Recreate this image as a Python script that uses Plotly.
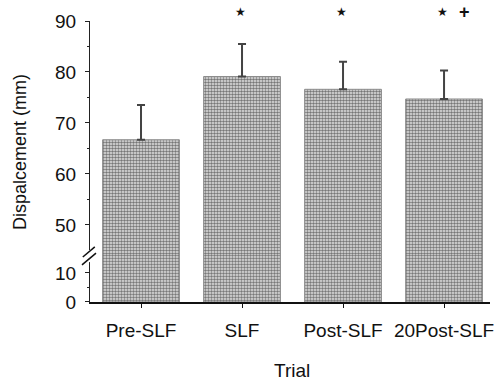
import plotly.graph_objects as go

categories = ["Pre-SLF", "SLF", "Post-SLF", "20Post-SLF"]
means = [66.7, 79.1, 76.6, 74.7]
sd = [6.8, 6.4, 5.4, 5.6]
star_trials = [1, 2, 3]
plus_trials = [3]

x_idx = list(range(len(categories)))

FONT = "Liberation Sans, Arial, Helvetica, sans-serif"
pattern = dict(shape=".", size=3, solidity=0.55, fgcolor="#777777", bgcolor="#e6e6e6", fillmode="replace")
bar_line = dict(color="#8a8a8a", width=1)

fig = go.Figure()
fig.add_trace(go.Bar(x=x_idx, y=means, width=0.76, yaxis="y",
                     marker=dict(color="#e6e6e6", pattern=pattern, line=bar_line),
                     showlegend=False, hoverinfo="skip"))
fig.add_trace(go.Bar(x=x_idx, y=means, width=0.76, yaxis="y2",
                     marker=dict(color="#e6e6e6", pattern=pattern, line=bar_line),
                     error_y=dict(type="data", symmetric=False, array=sd,
                                  arrayminus=[0] * len(sd), color="#444",
                                  thickness=2, width=4),
                     showlegend=False))

sig_y = 1.033  # paper units, just above the plot top
annotations = [
    dict(text="Dispalcement (mm)", xref="paper", yref="paper", x=-0.175, y=0.534,
         textangle=-90, showarrow=False, xanchor="center", yanchor="middle",
         font=dict(family=FONT, size=18, color="#111")),
    dict(text="Trial", xref="paper", yref="paper", x=0.504, y=-0.242,
         showarrow=False, xanchor="center", yanchor="middle",
         font=dict(family=FONT, size=19, color="#111")),
]
for t in star_trials:
    annotations.append(dict(text="★", x=t, y=sig_y, xref="x", yref="paper",
                            xshift=-2, showarrow=False, xanchor="center", yanchor="middle",
                            font=dict(family="DejaVu Sans", size=12, color="#111")))
for t in plus_trials:
    annotations.append(dict(text="<b>+</b>", x=t + 0.2, y=sig_y, xref="x", yref="paper",
                            showarrow=False, xanchor="center", yanchor="middle",
                            font=dict(family=FONT, size=18, color="#111")))

d = 0.171
tickfont = dict(family=FONT, size=19, color="#111")
fig.update_layout(
    width=498, height=385,
    margin=dict(l=90, r=8, t=21, b=83),
    paper_bgcolor="white", plot_bgcolor="white",
    barmode="overlay",
    xaxis=dict(range=[-0.505, 3.455], tickvals=x_idx, ticktext=categories,
               showline=True, linecolor="#111", linewidth=1.5,
               ticks="outside", ticklen=4, tickcolor="#111", ticklabelstandoff=6,
               tickfont=tickfont, showgrid=False, zeroline=False,
               anchor="y", automargin=False),
    yaxis=dict(domain=[0, d], range=[0, 16.55], tickvals=[0, 10],
               showline=True, linecolor="#222", linewidth=1,
               ticks="outside", ticklen=4, tickcolor="#222", ticklabelstandoff=5,
               minor=dict(ticks="outside", ticklen=2, dtick=5, tick0=0, tickcolor="#222"),
               tickfont=tickfont, showgrid=False, zeroline=False,
               anchor="x", automargin=False),
    yaxis2=dict(domain=[d, 1], range=[44.3, 90], tickvals=[50, 60, 70, 80, 90],
                showline=True, linecolor="#222", linewidth=1,
                ticks="outside", ticklen=4, tickcolor="#222", ticklabelstandoff=5,
                minor=dict(ticks="outside", ticklen=2, dtick=5, tick0=0, tickcolor="#222"),
                tickfont=tickfont, showgrid=False, zeroline=False,
                anchor="x", automargin=False),
    annotations=annotations,
    shapes=[
        dict(type="rect", xref="paper", yref="paper", x0=-0.03, x1=0.008,
             y0=0.142, y1=0.185, fillcolor="white", line=dict(width=0), layer="above"),
        dict(type="line", xref="paper", yref="paper", x0=-0.018, y0=0.160, x1=0.012, y1=0.196,
             line=dict(color="#111", width=1.5)),
        dict(type="line", xref="paper", yref="paper", x0=-0.02, y0=0.132, x1=0.015, y1=0.174,
             line=dict(color="#111", width=1.5)),
    ],
)

fig.write_html("out.html")
